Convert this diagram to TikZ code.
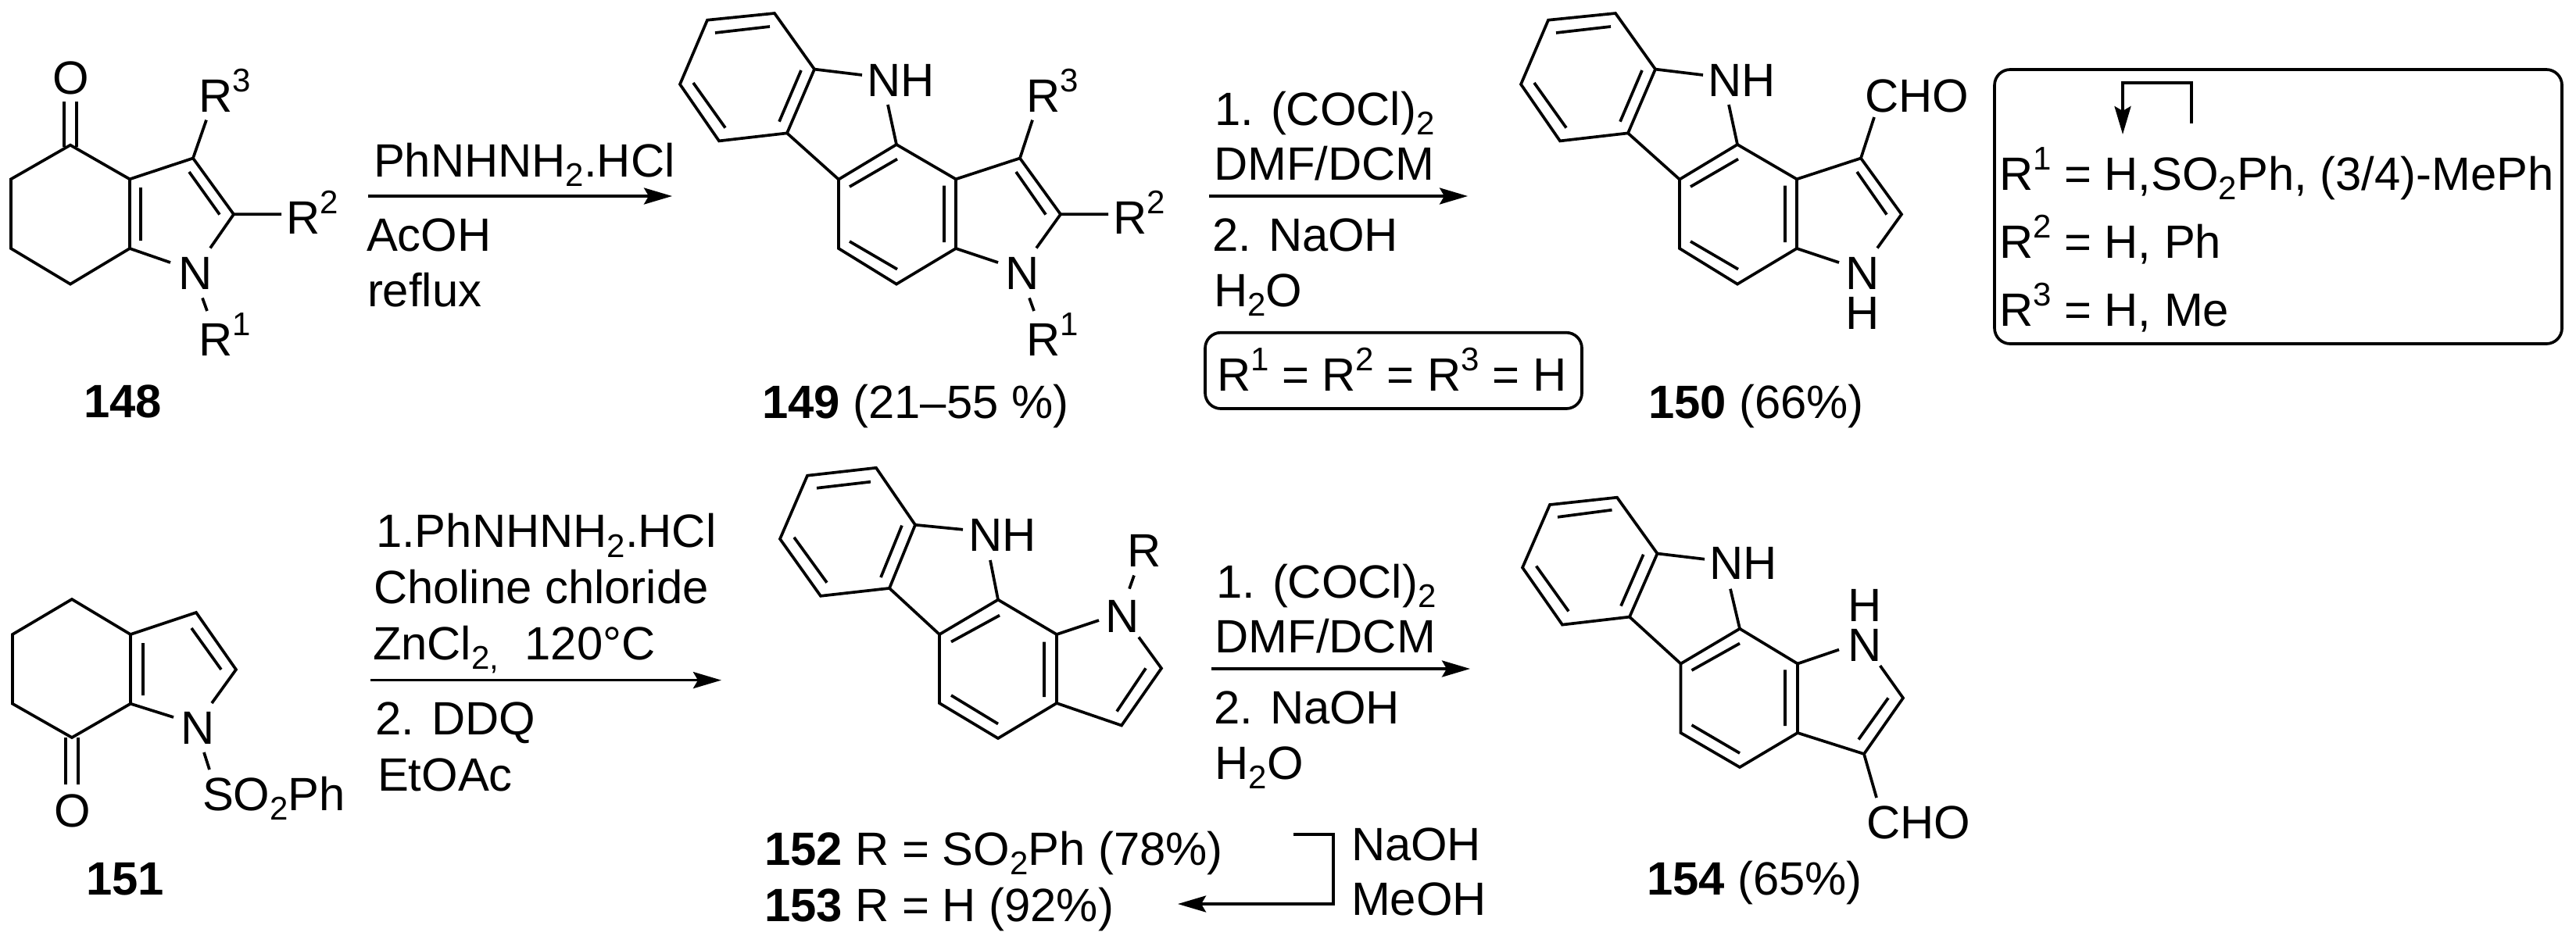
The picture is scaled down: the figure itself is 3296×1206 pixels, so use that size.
\documentclass[tikz,border=0pt]{standalone}
\usepackage{fontspec}
\setmainfont{Liberation Sans}
\usetikzlibrary{arrows.meta}
\newcommand\Sp[1]{\raisebox{13pt}{\fontsize{21}{21}\selectfont #1}}
\newcommand\Sb[1]{\raisebox{-6.3pt}{\fontsize{21}{21}\selectfont #1}}
\tikzset{
  txt/.style={anchor=base west,inner sep=0pt,outer sep=0pt,xshift=-1.5pt,font=\fontsize{29.9}{34}\selectfont},
  bond/.style={line width=1.85pt,line join=miter},
  rxn/.style={line width=1.85pt,-{Stealth[length=18pt,width=10.5pt,inset=3pt]}},
  framebox/.style={line width=1.85pt,rounded corners=10pt}
}
% shared tricyclic core of 149 and 150
\newcommand\coreTop{%
  \foreach \n/\x/\y in {a1/991/17,a2/905/25.7,a3/870/107.9,a4/920/180.4,a5/1007/170.4,a6/1042/88.6,
    nh1/1103/96,nh2/1136/134,b1/1147/185,b2/1073/229.6,b3/1073/318,b4/1147/363.6,b5/1223/318,b6/1223/229.3,
    c3/1305/202.5,c2/1357/274.3,nl/1277/336,nr/1326/317.5,
    i1/915/42,i2/985/34,i3/887/106,i4/928/163.6,i5/1025/90,i6/997/155.7,
    i7/1148/203.6,i8/1087/239,i9/1087/309,i10/1148/344.6,i11/1208/237.5,i12/1208/310,i13/1300/220,i14/1338/274.6}
    {\coordinate (\n) at (\x,\y);}
  \draw[bond] (a1)--(a2)--(a3)--(a4)--(a5)--(a6)--cycle;
  \draw[bond] (a6)--(nh1) (nh2)--(b1) (a5)--(b2);
  \draw[bond] (b1)--(b2)--(b3)--(b4)--(b5)--(b6)--cycle;
  \draw[bond] (b6)--(c3)--(c2)--(nr) (b5)--(nl);
  \draw[bond] (i1)--(i2) (i3)--(i4) (i5)--(i6) (i7)--(i8) (i9)--(i10) (i11)--(i12) (i13)--(i14);
}
\begin{document}
\begin{tikzpicture}[x=0.5pt,y=-0.5pt]
\useasboundingbox (0,0) rectangle (3296,1206);

% ---- 148 ----
\foreach \n/\x/\y in {p1/90/185.7,p2/14/229.3,p3/14/318,p4/90/363.6,p5/166/318,p6/166/229.3,
  pc3/247/202.5,pc2/299/274.3,pnl/218/336,pnr/269/317.5,pr3/264/153.6,pr2/360/274.3,pn1/259/381.4,pr1/265/398,
  po1/82/130,po2/82/188,po3/98/130,po4/98/188,pi1/180/240,pi2/180/308,pi3/242/220,pi4/281/274.6}
  {\coordinate (\n) at (\x,\y);}
\draw[bond] (p1)--(p2)--(p3)--(p4)--(p5)--(p6)--cycle;
\draw[bond] (p6)--(pc3)--(pc2)--(pnr) (p5)--(pnl) (pc3)--(pr3) (pc2)--(pr2) (pn1)--(pr1);
\draw[bond] (po1)--(po2) (po3)--(po4) (pi1)--(pi2) (pi3)--(pi4);
\node[txt] (pO) at (70,120) {O};
\node[txt] (pR3) at (257,143) {R\Sp{3}};
\node[txt] (pR2) at (369,299) {R\Sp{2}};
\node[txt] (pN) at (231,370) {N};
\node[txt] (pR1) at (257,455) {R\Sp{1}};
\node[txt] (l148) at (110,534) {\textbf{148}};

% ---- arrow 1 ----
\coordinate (ar1s) at (471,251); \coordinate (ar1e) at (860,251);
\draw[rxn] (ar1s)--(ar1e);
\node[txt] (t11) at (481,226) {PhNHNH\Sb{2}.HCl};
\node[txt] (t12) at (472,321.4) {AcOH};
\node[txt] (t13) at (473,392) {reflux};

% ---- 149 ----
\begin{scope}[name prefix=q-]
\coreTop
\coordinate (r3e) at (1321,153.6); \coordinate (r2e) at (1418,274.3);
\coordinate (r1a) at (1317,381.4); \coordinate (r1b) at (1323,398);
\draw[bond] (c3)--(r3e) (c2)--(r2e) (r1a)--(r1b);
\end{scope}
\node[txt] (qNH) at (1112,123) {NH};
\node[txt] (qR3) at (1316,143) {R\Sp{3}};
\node[txt] (qR2) at (1427,299) {R\Sp{2}};
\node[txt] (qN) at (1289,370) {N};
\node[txt] (qR1) at (1316,455) {R\Sp{1}};
\node[txt] (l149) at (978,535) {\textbf{149} (21–55 \%)};

% ---- arrow 2 ----
\coordinate (ar2s) at (1547,251); \coordinate (ar2e) at (1878,251);
\draw[rxn] (ar2s)--(ar2e);
\node[txt] (t21) at (1557,160) {1. (COCl)\Sb{2}};
\node[txt] (t22) at (1556,230) {DMF/DCM};
\node[txt] (t23) at (1554,321.4) {2. NaOH};
\node[txt] (t24) at (1556,392) {H\Sb{2}O};
\draw[framebox] (1542,425.7) rectangle (2024,523);
\node[txt] (t25) at (1560,500) {R\Sp{1} = R\Sp{2} = R\Sp{3} = H};

% ---- 150 ----
\begin{scope}[name prefix=s-,shift={(1076,0)}]
\coreTop
\coordinate (choe) at (1322,150);
\draw[bond] (c3)--(choe);
\end{scope}
\node[txt] (sNH) at (2188,123) {NH};
\node[txt] (sCHO) at (2389,143) {CHO};
\node[txt] (sN) at (2364,370) {N};
\node[txt] (sH) at (2364,421) {H};
\node[txt] (l150) at (2112,535) {\textbf{150} (66\%)};

% ---- substituent box ----
\draw[framebox] (2552,89) rectangle (3278,440);
\coordinate (e1a) at (2804,158); \coordinate (e1b) at (2804,106);
\coordinate (e1c) at (2716,106); \coordinate (e1d) at (2716,172);
\draw[rxn,line join=miter] (e1a)--(e1b)--(e1c)--(e1d);
\node[txt] (b1) at (2561,243) {R\Sp{1} = H,SO\Sb{2}Ph, (3/4)-MePh};
\node[txt] (b2) at (2561,330) {R\Sp{2} = H, Ph};
\node[txt] (b3) at (2561,417) {R\Sp{3} = H, Me};

% ---- 151 ----
\foreach \n/\x/\y in {u1/92/767,u2/16/812,u3/16/900.7,u4/92/944,u5/167/900.7,u6/167/812,
  uc1/251/784,uc2/302/857,unl/222/918,unr/271/900,us1/261/963,us2/268/985,
  uo1/84/944,uo2/84/1004,uo3/100/944,uo4/100/1004,ui1/183/823,ui2/183/890,ui3/245/804,ui4/283/857}
  {\coordinate (\n) at (\x,\y);}
\draw[bond] (u1)--(u2)--(u3)--(u4)--(u5)--(u6)--cycle;
\draw[bond] (u6)--(uc1)--(uc2)--(unr) (u5)--(unl) (us1)--(us2);
\draw[bond] (uo1)--(uo2) (uo3)--(uo4) (ui1)--(ui2) (ui3)--(ui4);
\node[txt] (uN) at (234,952.5) {N};
\node[txt] (uS) at (262,1037) {SO\Sb{2}Ph};
\node[txt] (uO) at (72,1058) {O};
\node[txt] (l151) at (113,1145) {\textbf{151}};

% ---- arrow 3 ----
\coordinate (ar3s) at (474,870.6); \coordinate (ar3e) at (923,870.6);
\draw[rxn] (ar3s)--(ar3e);
\node[txt] (t31) at (484,700.5) {1.PhNHNH\Sb{2}.HCl};
\node[txt] (t32) at (481,772) {Choline chloride};
\node[txt] (t33) at (480,844) {ZnCl\Sb{2,}\ \ 120°C};
\node[txt] (t34) at (483,940) {2. DDQ};
\node[txt] (t35) at (486,1012) {EtOAc};

% ---- 152 ----
\foreach \n/\x/\y in {v1/1121/598.8,v2/1033/608.7,v3/998/689.8,v4/1050/762.8,v5/1138/752.9,v6/1171/671.8,
  vh1/1232/677.8,vh2/1267/717,w1/1277/767.6,w2/1202/812,w3/1202/900,w4/1277/945,w5/1352/900,w6/1352/812,
  vn1/1406/794,vn2/1457/815.5,vc1/1486/855.4,vc2/1435/928.5,vr1/1445/753.6,vr2/1451/736.5,
  vi1/1045/624.7,vi2/1114/616.7,vi3/1016/687.8,vi4/1058/745.7,vi5/1154/672.6,vi6/1127/739,
  vi7/1279/787.6,vi8/1217/821.5,vi9/1217/890,vi10/1277/926.5,vi11/1336/821.5,vi12/1336/892,vi13/1466/855.4,vi14/1429/910.5}
  {\coordinate (\n) at (\x,\y);}
\draw[bond] (v1)--(v2)--(v3)--(v4)--(v5)--(v6)--cycle;
\draw[bond] (v6)--(vh1) (vh2)--(w1) (v5)--(w2);
\draw[bond] (w1)--(w2)--(w3)--(w4)--(w5)--(w6)--cycle;
\draw[bond] (w6)--(vn1) (vn2)--(vc1)--(vc2)--(w5) (vr1)--(vr2);
\draw[bond] (vi1)--(vi2) (vi3)--(vi4) (vi5)--(vi6) (vi7)--(vi8) (vi9)--(vi10) (vi11)--(vi12) (vi13)--(vi14);
\node[txt] (vNH) at (1242,705.7) {NH};
\node[txt] (vR) at (1445,725.7) {R};
\node[txt] (vN) at (1417,809.5) {N};
\node[txt] (l152) at (981,1107) {\textbf{152} R = SO\Sb{2}Ph (78\%)};
\node[txt] (l153) at (981,1179) {\textbf{153} R = H (92\%)};

% ---- elbow 152 to 153 ----
\coordinate (e2a) at (1655,1068); \coordinate (e2b) at (1706,1068);
\coordinate (e2c) at (1706,1157); \coordinate (e2d) at (1507,1157);
\draw[rxn,line join=miter] (e2a)--(e2b)--(e2c)--(e2d);
\node[txt] (t51) at (1732,1101) {NaOH};
\node[txt] (t52) at (1732,1171) {MeOH};

% ---- arrow 4 ----
\coordinate (ar4s) at (1550,856); \coordinate (ar4e) at (1881,856);
\draw[rxn] (ar4s)--(ar4e);
\node[txt] (t41) at (1559,765) {1. (COCl)\Sb{2}};
\node[txt] (t42) at (1557.5,835.5) {DMF/DCM};
\node[txt] (t43) at (1556,926.5) {2. NaOH};
\node[txt] (t44) at (1557.5,997) {H\Sb{2}O};

% ---- 154 ----
\foreach \n/\x/\y in {x1/2069/636.7,x2/1983/646,x3/1948/726.5,x4/1999/799.6,x5/2085/789.6,x6/2120.5/708.5,
  xh1/2181/715.7,xh2/2214/753.7,z1/2226/804.7,z2/2150.5/849.5,z3/2150.5/938,z4/2226/982,z5/2300/938,z6/2300/849.5,
  xn1/2353/831.5,xn2/2405.6/852,xc1/2435/893.4,xc2/2385/965,xo/2401/1021,
  xi1/2062.5/652.7,xi2/1993/661.8,xi3/1965.6/724.5,xi4/2007/782.4,xi5/2102.7/709.7,xi6/2074/775.6,
  xi7/2226/823.5,xi8/2164.5/858,xi9/2164.5/928,xi10/2226/964,xi11/2284/857.4,xi12/2284/929,xi13/2416/893.4,xi14/2378/946.5}
  {\coordinate (\n) at (\x,\y);}
\draw[bond] (x1)--(x2)--(x3)--(x4)--(x5)--(x6)--cycle;
\draw[bond] (x6)--(xh1) (xh2)--(z1) (x5)--(z2);
\draw[bond] (z1)--(z2)--(z3)--(z4)--(z5)--(z6)--cycle;
\draw[bond] (z6)--(xn1) (xn2)--(xc1)--(xc2)--(z5) (xc2)--(xo);
\draw[bond] (xi1)--(xi2) (xi3)--(xi4) (xi5)--(xi6) (xi7)--(xi8) (xi9)--(xi10) (xi11)--(xi12) (xi13)--(xi14);
\node[txt] (xNH) at (2190,741.7) {NH};
\node[txt] (xH) at (2367,795.6) {H};
\node[txt] (xN) at (2367,846) {N};
\node[txt] (xCHO) at (2391,1073.8) {CHO};
\node[txt] (l154) at (2110,1145) {\textbf{154} (65\%)};
\end{tikzpicture}
\end{document}
